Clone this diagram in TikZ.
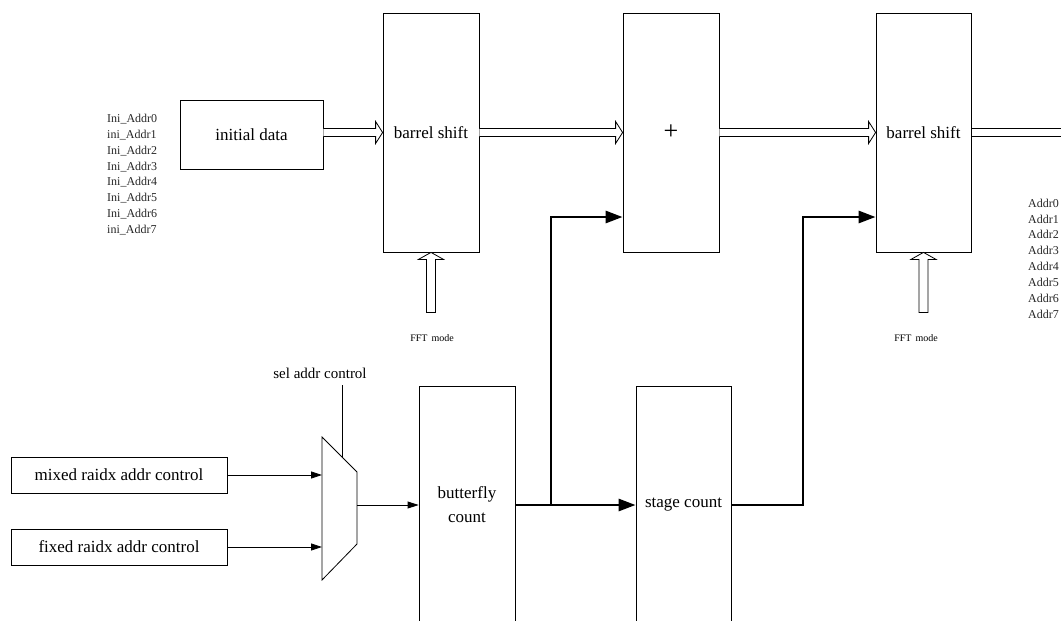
\documentclass[tikz,border=0pt]{standalone}
\usepackage{fontspec}
\setmainfont{Liberation Serif}
\usetikzlibrary{arrows.meta,calc}
\newcommand\dblarr[2]{\draw[dbl] ($(#1.east|-#2.west)+(0,-4)$) -- ($(#2.west)+(-7,-4)$) -- ++(0,-7) -- (#2.west) -- ($(#2.west)+(-7,11)$) -- ++(0,-7) -- ($(#1.east|-#2.west)+(0,4)$);}
\newcommand\fftarr[1]{\draw[dbl] ($(#1.south)+(-4.5,60)$) -- ++(0,-53) -- ++(-8,0) -- (#1.south) -- ($(#1.south)+(12.5,7)$) -- ++(-8,0) -- ++(0,53) -- cycle;}
\begin{document}
\begin{tikzpicture}[x=1pt,y=-1pt,
  blk/.style={draw,line width=0.8pt,inner sep=0pt,font=\fontsize{17}{24}\selectfont,align=center},
  sig/.style={line width=0.8pt,-{Triangle[length=11pt,width=7pt]}},
  bus/.style={line width=2.8pt,-{Triangle[length=17pt,width=12pt]}},
  dbl/.style={line width=0.8pt,fill=white,line join=miter},
  small/.style={font=\fontsize{12}{14}\selectfont,inner sep=0pt,anchor=west,text=black!85},
]
\useasboundingbox (0,0) rectangle (1061,621);
% top row
\node[blk,minimum width=143pt,minimum height=69pt] (init) at (251.5,134.5) {initial data};
\node[blk,minimum width=96pt,minimum height=239pt] (bs1) at (431,132.5) {barrel shift};
\node[blk,minimum width=96pt,minimum height=239pt,font=\fontsize{26}{28}\selectfont] (plus) at (671,132.5) {+};
\node[blk,minimum width=95pt,minimum height=239pt] (bs2) at (923.5,132.5) {barrel shift};
\dblarr{init}{bs1}
\dblarr{bs1}{plus}
\dblarr{plus}{bs2}
\coordinate (outR) at (1070,132.5);
\draw[line width=0.8pt] ($(bs2.east)+(0,-4)$) -- ($(outR)+(0,-4)$);
\draw[line width=0.8pt] ($(bs2.east)+(0,4)$) -- ($(outR)+(0,4)$);
\fftarr{bs1}
\fftarr{bs2}
\node[font=\fontsize{10}{12}\selectfont,inner sep=0pt] (fft1) at (432,338) {FFT\hspace{4pt}mode};
\node[font=\fontsize{10}{12}\selectfont,inner sep=0pt] (fft2) at (916,338) {FFT\hspace{4pt}mode};
% address labels
\foreach \t [count=\i from 0] in {Ini,ini,Ini,Ini,Ini,Ini,Ini,ini}
  \node[small] (ia\i) at (107,{119+15.9*\i}) {\t\_Addr\i};
\foreach \i in {0,...,7}
  \node[small] (oa\i) at (1028,{203+15.9*\i}) {Addr\i};
% bottom
\node[blk,minimum width=216pt,minimum height=36pt] (mixed) at (119,475) {mixed raidx addr control};
\node[blk,minimum width=216pt,minimum height=36pt] (fixed) at (119,547) {fixed raidx addr control};
\coordinate (m1) at (322,437);
\coordinate (m2) at (357,472);
\coordinate (m3) at (357,544);
\coordinate (m4) at (322,580);
\draw[line width=0.8pt] (m1) -- (m2) -- (m3) -- (m4) -- cycle;
\coordinate (mi1) at (322,475);
\coordinate (mi2) at (322,547);
\coordinate (mo) at (357,505);
\coordinate (msel) at (342,457);
\coordinate (seltop) at (342,385);
\draw[line width=0.8pt] (seltop) -- (msel);
\node[font=\fontsize{15}{18}\selectfont,inner sep=0pt] (sel) at (320,373) {sel addr control};
\node[blk,minimum width=96pt,minimum height=238pt] (bf) at (467,505) {butterfly\\count};
\node[blk,minimum width=95pt,minimum height=238pt] (stage) at (683.5,505) {stage count};
\draw[sig] (mixed.east) -- (mi1);
\draw[sig] (fixed.east) -- (mi2);
\draw[sig] (mo) -- (mo-|bf.west);
\coordinate (j1) at (551,505);
\coordinate (j2) at (803,505);
\draw[bus] (bf.east) -- (stage.west);
\draw[bus] (j1) |- ($(plus.west)+(0,84.5)$);
\draw[bus] (stage.east) -- (j2) |- ($(bs2.west)+(0,84.5)$);
\end{tikzpicture}
\end{document}
